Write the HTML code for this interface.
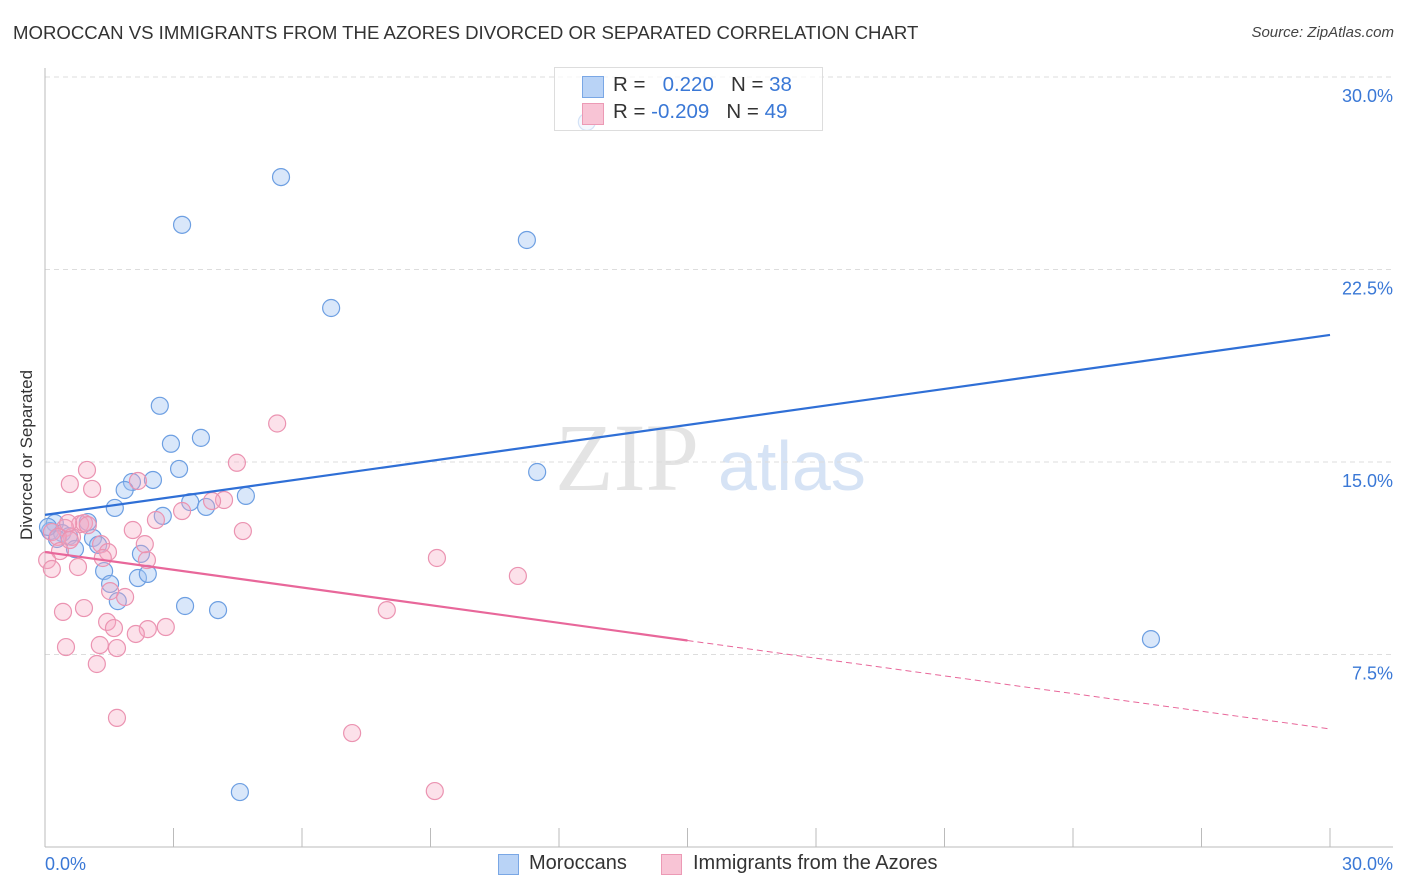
<!DOCTYPE html>
<html><head><meta charset="utf-8"><style>
body{margin:0;background:#fff;font-family:"Liberation Sans",sans-serif;}
#wrap{position:relative;width:1406px;height:892px;overflow:hidden;}
.t{position:absolute;white-space:nowrap;}
</style></head><body>
<div id="wrap">
<div class="t" style="left:13px;top:22px;font-size:18.6px;color:#333;">MOROCCAN VS IMMIGRANTS FROM THE AZORES DIVORCED OR SEPARATED CORRELATION CHART</div>
<div class="t" style="right:12px;top:24px;font-size:15px;color:#444;font-style:italic;">Source: ZipAtlas.com</div>
<div class="t" style="left:27px;top:455px;font-size:17px;color:#333;transform:translate(-50%,-50%) rotate(-90deg);">Divorced or Separated</div>
<svg id="plot" width="1406" height="892" style="position:absolute;left:0;top:0">
<text x="555" y="490" font-family="Liberation Serif,serif" font-size="96" fill="#e4e4e4">ZIP</text>
<text x="718" y="490" font-family="Liberation Sans,sans-serif" font-size="70" fill="#d6e3f5">atlas</text>
</svg>
<div style="position:absolute;left:554px;top:67px;width:267px;height:62px;border:1px solid #ddd;background:rgba(255,255,255,0.7);">
<div style="position:absolute;left:27px;top:8px;width:20px;height:20px;background:#b9d3f6;border:1px solid #7aa7e5;"></div>
<div style="position:absolute;left:27px;top:35px;width:20px;height:20px;background:#f8c4d5;border:1px solid #ec9ab5;"></div>
<div class="t" style="left:58px;top:5px;font-size:20.5px;color:#333;">R = &nbsp;&nbsp;<span style="color:#3a78d6">0.220</span>&nbsp;&nbsp;&nbsp;N = <span style="color:#3a78d6">38</span></div>
<div class="t" style="left:58px;top:32px;font-size:20.5px;color:#333;">R = <span style="color:#3a78d6">-0.209</span>&nbsp;&nbsp;&nbsp;N = <span style="color:#3a78d6">49</span></div>
</div>
<div style="position:absolute;left:498px;top:852px;font-size:20px;color:#333;">
<span style="position:absolute;left:0;top:2px;width:19px;height:19px;background:#b9d3f6;border:1px solid #7aa7e5;"></span>
<span class="t" style="left:31px;top:0;">Moroccans</span>
<span style="position:absolute;left:163px;top:2px;width:19px;height:19px;background:#f8c4d5;border:1px solid #ec9ab5;"></span>
<span class="t" style="left:195px;top:0;">Immigrants from the Azores</span>
</div>
</div>
<script>
const yTicks=[7.5,15.0,22.5,30.0];
const xTickLabels=["0.0%","30.0%"];
const blueX=[5.51,3.20,11.25,12.65,6.68,2.68,2.94,3.64,3.13,2.52,2.03,1.86,4.69,3.39,3.76,1.63,2.75,11.49,25.82,1.00,0.23,0.12,0.40,0.56,1.12,1.24,0.70,2.24,1.38,1.52,2.17,2.40,1.70,3.27,4.04,4.55,0.28,0.07];
const blueY=[26.10,24.24,23.65,28.25,21.00,17.19,15.71,15.94,14.73,14.30,14.22,13.91,13.68,13.44,13.25,13.21,12.90,14.61,8.10,12.66,12.62,12.31,12.23,12.11,12.04,11.77,11.61,11.42,10.75,10.25,10.48,10.64,9.58,9.39,9.23,2.14,12.00,12.47];
const pinkX=[5.42,4.48,0.98,0.58,1.10,2.17,4.18,3.90,3.20,2.59,2.05,4.62,0.82,0.91,0.47,0.63,0.16,0.30,1.31,1.47,0.35,1.35,2.38,0.05,0.16,0.77,1.87,1.52,9.15,11.04,0.42,0.91,7.98,1.45,1.61,2.40,2.82,2.12,0.49,1.28,1.68,1.21,1.68,7.17,9.10,1.00,0.58,2.33,0.54];
const pinkY=[16.50,14.97,14.69,14.14,13.95,14.26,13.52,13.48,13.09,12.74,12.35,12.31,12.58,12.62,12.43,12.08,12.27,12.08,11.80,11.49,11.53,11.26,11.18,11.18,10.83,10.91,9.74,9.97,11.26,10.56,9.16,9.31,9.23,8.77,8.53,8.49,8.57,8.30,7.79,7.87,7.75,7.13,5.03,4.44,2.18,12.54,11.96,11.80,12.62];
const blueTrend=[12.94,19.95];
const pinkTrend=[11.49,4.60];
const pinkSolidEnd=15;

const X0=45,X1=1330,Y0=847,YPX=192.5/7.5;
function sx(v){return X0+(X1-X0)*v/30;}
function sy(v){return Y0-v*YPX;}
const svg=document.getElementById('plot');
const NS='http://www.w3.org/2000/svg';
function mk(tag,attrs){const e=document.createElementNS(NS,tag);for(const k in attrs)e.setAttribute(k,attrs[k]);svg.appendChild(e);return e;}

yTicks.forEach(v=>{
 const g=mk('line',{x1:X0,x2:1393,y1:sy(v),y2:sy(v),stroke:'#ddd','stroke-dasharray':'5,4'});
 
 
 const t=mk('text',{x:1393,y:sy(v)+25,'text-anchor':'end','font-size':18,fill:'#3a78d6','font-family':'Liberation Sans,sans-serif'});
 t.textContent=v.toFixed(1)+'%';
 
 
});
let a=mk('line',{x1:X0,x2:X0,y1:68,y2:Y0,stroke:'#bbb'});


a=mk('line',{x1:X0,x2:1393,y1:Y0,y2:Y0,stroke:'#bbb'});


for(let i=0;i<=10;i++){
 const tk=mk('line',{x1:sx(i*3),x2:sx(i*3),y1:828,y2:Y0,stroke:'#bbb'});
 
 
}
[[0,'start',45],[1,'end',1393]].forEach(([i,anc,x])=>{
 const t=mk('text',{x:x,y:870,'text-anchor':anc,'font-size':18,fill:'#3a78d6','font-family':'Liberation Sans,sans-serif'});
 t.textContent=xTickLabels[i];
 
 
});
blueX.forEach((x,i)=>{
 const c=mk('circle',{cx:sx(x),cy:sy(blueY[i]),r:8.5,fill:'rgba(160,196,242,0.4)',stroke:'#6d9fe2','stroke-width':1.2});
 
 
});
pinkX.forEach((x,i)=>{
 const c=mk('circle',{cx:sx(x),cy:sy(pinkY[i]),r:8.5,fill:'rgba(246,170,196,0.35)',stroke:'#eb93b1','stroke-width':1.2});
 
 
});
let l=mk('line',{x1:sx(0),y1:sy(blueTrend[0]),x2:sx(30),y2:sy(blueTrend[1]),stroke:'#2f6fd6','stroke-width':2.2});


const pm=pinkTrend[0]+(pinkTrend[1]-pinkTrend[0])*pinkSolidEnd/30;
l=mk('line',{x1:sx(0),y1:sy(pinkTrend[0]),x2:sx(pinkSolidEnd),y2:sy(pm),stroke:'#e8679a','stroke-width':2.2});


l=mk('line',{x1:sx(pinkSolidEnd),y1:sy(pm),x2:sx(30),y2:sy(pinkTrend[1]),stroke:'#e8679a','stroke-width':1,'stroke-dasharray':'6,4'});


</script>
</body></html>
